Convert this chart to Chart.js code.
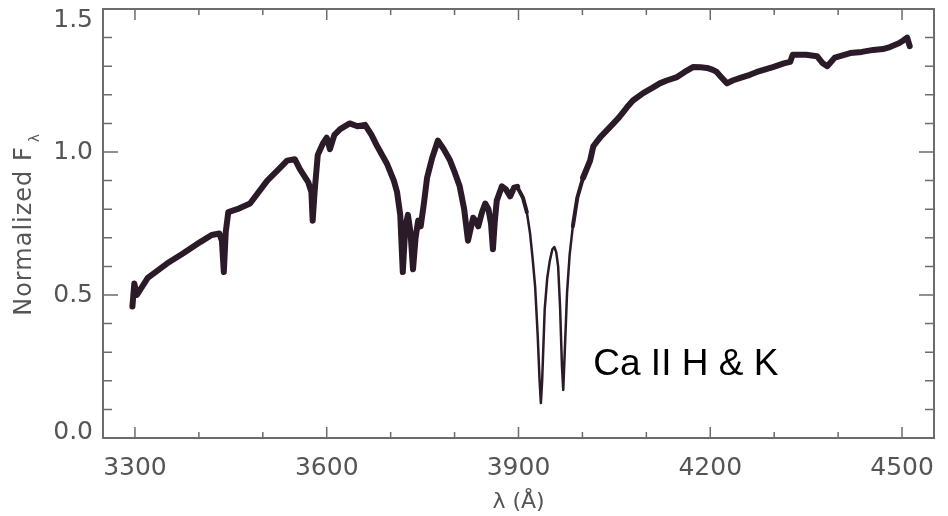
<!DOCTYPE html>
<html>
<head>
<meta charset="utf-8">
<title>Normalized spectrum</title>
<script src="https://cdn.jsdelivr.net/npm/chart.js@4/dist/chart.umd.min.js"></script>
<style>
  html, body { margin: 0; padding: 0; background: #fff; }
  #spectrum { display: block; }
</style>
</head>
<body>
<canvas id="spectrum" width="948" height="516"></canvas>
<script>
// Wavelength samples (Angstrom) and normalized flux along the spectrum
const wavelength = [
  3296, 3299, 3303, 3320, 3350, 3375, 3402, 3420, 3432, 3436,
  3439, 3442, 3446, 3460, 3480, 3507, 3525, 3538, 3550, 3558,
  3571, 3576, 3578, 3581, 3586, 3594, 3600, 3605, 3612, 3621,
  3636, 3648, 3660, 3670, 3679, 3694, 3705, 3710, 3715, 3719,
  3723, 3727, 3731, 3735, 3739, 3743, 3747, 3752, 3757, 3765,
  3774, 3783, 3793, 3800, 3808, 3815, 3821, 3825, 3829, 3833,
  3837, 3843, 3848, 3853, 3857, 3860, 3863, 3866, 3874, 3880,
  3887, 3893, 3898, 3907, 3913, 3918, 3922, 3926, 3930, 3933,
  3935, 3937, 3941, 3945, 3949, 3953, 3956, 3959, 3962, 3965,
  3968, 3970, 3972, 3976, 3980, 3985, 3992, 4001, 4012, 4017,
  4028, 4043, 4057, 4070, 4079, 4095, 4110, 4121, 4132, 4148,
  4160, 4173, 4185, 4195, 4204, 4210, 4218, 4226, 4235, 4247,
  4262, 4273, 4298, 4315, 4325, 4329, 4350, 4367, 4376, 4383,
  4395, 4419, 4437, 4455, 4470, 4481, 4495, 4502, 4508, 4512
];
const flux = [
  0.46, 0.54, 0.50, 0.56, 0.61, 0.645, 0.685, 0.71, 0.715, 0.69,
  0.58, 0.72, 0.79, 0.80, 0.82, 0.90, 0.94, 0.97, 0.975, 0.94,
  0.895, 0.86, 0.76, 0.86, 0.99, 1.03, 1.05, 1.01, 1.06, 1.08,
  1.10, 1.09, 1.095, 1.06, 1.02, 0.96, 0.90, 0.86, 0.78, 0.58,
  0.74, 0.78, 0.72, 0.59, 0.70, 0.76, 0.74, 0.82, 0.91, 0.98,
  1.04, 1.01, 0.97, 0.93, 0.88, 0.80, 0.69, 0.73, 0.77, 0.76,
  0.74, 0.79, 0.82, 0.80, 0.75, 0.66, 0.76, 0.83, 0.88, 0.87,
  0.845, 0.875, 0.878, 0.84, 0.79, 0.717, 0.63, 0.53, 0.36, 0.20,
  0.122, 0.20, 0.45, 0.56, 0.62, 0.66, 0.668, 0.65, 0.60, 0.46,
  0.25, 0.168, 0.28, 0.51, 0.64, 0.74, 0.84, 0.91, 0.97, 1.02,
  1.052, 1.087, 1.12, 1.157, 1.18, 1.206, 1.225, 1.24, 1.25, 1.262,
  1.28, 1.297, 1.296, 1.294, 1.287, 1.28, 1.26, 1.24, 1.25, 1.259,
  1.27, 1.28, 1.297, 1.31, 1.315, 1.34, 1.34, 1.335, 1.31, 1.30,
  1.33, 1.346, 1.35, 1.357, 1.36, 1.367, 1.38, 1.39, 1.40, 1.37
];

// Axis tick labels
const xTicks = [3300, 3600, 3900, 4200, 4500];
const yTicks = [0.0, 0.5, 1.0, 1.5];

// Text placed next to the calcium doublet
const lineLabel = { text: 'Ca II H & K', lambda: 4017, flux: 0.22 };

const axisColor = '#6c6c6c';
const labelColor = '#555';
const tickFont = '25px "DejaVu Sans"';

// Draws the boxed frame with inward ticks, the tick labels and axis titles
const boxAxes = {
  id: 'boxAxes',
  afterDraw(chart) {
    const { ctx, chartArea: a, scales: { x, y } } = chart;
    ctx.save();

    // frame
    ctx.strokeStyle = axisColor;
    ctx.lineWidth = 2;
    ctx.strokeRect(a.left, a.top, a.right - a.left, a.bottom - a.top);

    // x ticks, bottom and top (major every 300, minor every 100)
    ctx.lineWidth = 1.5;
    ctx.beginPath();
    for (let v = 3300; v <= 4500; v += 100) {
      const px = x.getPixelForValue(v);
      const len = xTicks.includes(v) ? 11 : 6;
      ctx.moveTo(px, a.bottom);
      ctx.lineTo(px, a.bottom - len);
      ctx.moveTo(px, a.top);
      ctx.lineTo(px, a.top + len);
    }
    // y ticks, left and right (major every 0.5, minor every 0.1)
    for (let i = 1; i < 15; i++) {
      const v = i / 10;
      const py = y.getPixelForValue(v);
      const len = i % 5 === 0 ? 15 : 9;
      ctx.moveTo(a.left, py);
      ctx.lineTo(a.left + len, py);
      ctx.moveTo(a.right, py);
      ctx.lineTo(a.right - len, py);
    }
    ctx.stroke();

    // tick labels
    ctx.fillStyle = labelColor;
    ctx.font = tickFont;
    ctx.textAlign = 'center';
    ctx.textBaseline = 'middle';
    xTicks.forEach(v => {
      ctx.fillText(String(v), x.getPixelForValue(v), a.bottom + 30);
    });
    ctx.textAlign = 'right';
    yTicks.forEach(v => {
      let py = y.getPixelForValue(v);
      py = Math.min(Math.max(py, a.top + 11), a.bottom - 6);
      ctx.fillText(v.toFixed(1), a.left - 10, py);
    });

    // x title
    ctx.font = '22px "DejaVu Sans"';
    ctx.textAlign = 'center';
    ctx.fillText('\u03bb (\u00c5)', (a.left + a.right) / 2, a.bottom + 64);

    // y title, rotated, with a subscript lambda
    ctx.translate(25, 225);
    ctx.rotate(-Math.PI / 2);
    ctx.font = '24px "DejaVu Sans"';
    ctx.letterSpacing = '1px';
    const main = 'Normalized F';
    const w = ctx.measureText(main).width;
    ctx.textAlign = 'left';
    ctx.fillText(main, -w / 2 - 6, 0);
    ctx.font = '14px "DejaVu Sans"';
    ctx.fillText('\u03bb', w / 2 - 2, 10);
    ctx.restore();

    // doublet label
    ctx.save();
    ctx.fillStyle = '#000';
    ctx.font = '37px "Liberation Sans"';
    ctx.textAlign = 'left';
    ctx.textBaseline = 'alphabetic';
    ctx.fillText(lineLabel.text, x.getPixelForValue(lineLabel.lambda), y.getPixelForValue(lineLabel.flux));
    ctx.restore();
  }
};

const points = wavelength.map((w, i) => ({ x: w, y: flux[i] }));

// Noise band is thick except in the smooth H & K cores
const segmentWidth = c => {
  const w = c.p0.parsed.x;
  if (w >= 3913 && w < 3985) return 2.5;
  if (w >= 3898 && w < 4001) return 4;
  return 6;
};

new Chart(document.getElementById('spectrum'), {
  type: 'line',
  data: {
    datasets: [{
      data: points,
      borderColor: '#2b1a27',
      borderWidth: 6,
      pointRadius: 0,
      tension: 0,
      borderJoinStyle: 'round',
      borderCapStyle: 'round',
      segment: { borderWidth: segmentWidth }
    }]
  },
  options: {
    responsive: false,
    animation: false,
    layout: { padding: { left: 103, right: 14, top: 9, bottom: 78 } },
    scales: {
      x: { type: 'linear', min: 3250, max: 4550, display: false },
      y: { min: 0, max: 1.5, display: false }
    },
    plugins: {
      legend: { display: false },
      tooltip: { enabled: false }
    }
  },
  plugins: [boxAxes]
});
</script>
</body>
</html>
